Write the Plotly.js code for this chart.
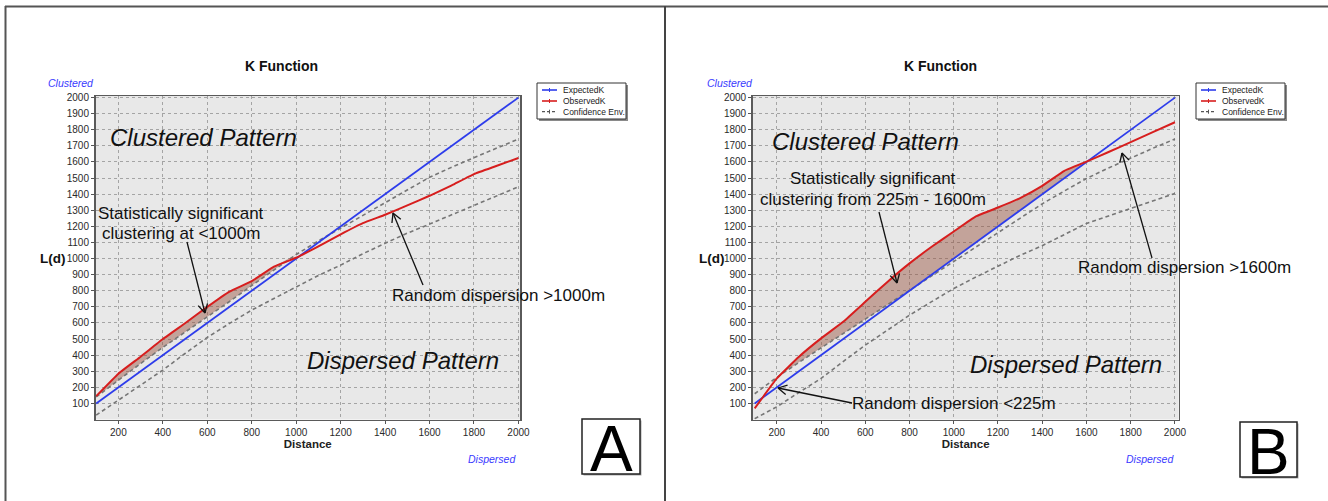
<!DOCTYPE html>
<html>
<head>
<meta charset="utf-8">
<script src="https://cdn.plot.ly/plotly-3.0.1.min.js"></script>
<style>html,body{margin:0;padding:0;background:#fff;}#chart{width:1328px;height:501px;}</style>
</head>
<body>
<div id="chart"></div>
<script>
// ---------- data ----------
const distance  = [100,200,300,400,500,600,700,800,900,1000,1100,1200,1300,1400,1500,1600,1700,1800,1900,2000];
// Panel A
const expectedA = [100,200,300,400,500,600,700,800,900,1000,1100,1200,1300,1400,1500,1600,1700,1800,1900,2000];
const observedA = [145,285,390,500,598,700,795,860,950,1005,1075,1150,1220,1272,1330,1390,1455,1525,1575,1625];
const upperA    = [140,245,348,448,542,636,733,832,930,1025,1110,1190,1270,1350,1430,1505,1568,1628,1685,1742];
const lowerA    = [27,120,215,307,410,510,597,680,752,824,895,959,1030,1095,1158,1214,1272,1332,1390,1446];
// Panel B
const expectedB = [100,200,300,400,500,600,700,800,900,1000,1100,1200,1300,1400,1500,1600,1700,1800,1900,2000];
const observedB = [69,255,390,504,607,731,855,970,1073,1168,1262,1317,1376,1452,1545,1602,1662,1723,1785,1847];
const upperB    = [160,262,355,445,532,620,710,800,890,980,1070,1160,1250,1340,1420,1497,1563,1625,1685,1743];
const lowerB    = [5,79,168,255,360,462,555,648,732,814,885,955,1020,1080,1150,1218,1265,1312,1358,1404];

const xTicks = [200,400,600,800,1000,1200,1400,1600,1800,2000];
const yTicks = [100,200,300,400,500,600,700,800,900,1000,1100,1200,1300,1400,1500,1600,1700,1800,1900,2000];
const seriesNames = ['ExpectedK','ObservedK','Confidence Env.'];
const chartTitle = 'K Function';
const panelLabels = ['A','B'];

// ---------- styles ----------
const W = 1328, H = 501;
const BLUE = 'rgb(45,60,235)', RED = 'rgb(215,30,30)', GREY = '#767676';
const FONT = 'Liberation Sans, Arial, sans-serif';
const px = v => v / W;
const py = v => 1 - v / H;

function panelTraces(obs, exp, up, lo, xa, ya) {
  const boundary = up.map((u, i) => Math.max(u, exp[i]));
  const top = obs.map((o, i) => Math.max(o, boundary[i]));
  return [
    {x: distance, y: boundary, xaxis: xa, yaxis: ya, mode: 'lines', line: {width: 0, color: 'rgba(0,0,0,0)'}, hoverinfo: 'skip', showlegend: false},
    {x: distance, y: top, xaxis: xa, yaxis: ya, mode: 'lines', fill: 'tonexty', fillcolor: 'rgba(150,80,60,0.45)', line: {width: 0, color: 'rgba(0,0,0,0)'}, hoverinfo: 'skip', showlegend: false},
    {x: distance, y: lo, xaxis: xa, yaxis: ya, mode: 'lines', name: seriesNames[2], line: {color: GREY, width: 1.6, dash: '4px,3px'}, showlegend: false},
    {x: distance, y: up, xaxis: xa, yaxis: ya, mode: 'lines', name: seriesNames[2], line: {color: GREY, width: 1.6, dash: '4px,3px'}, showlegend: false},
    {x: distance, y: exp, xaxis: xa, yaxis: ya, mode: 'lines', name: seriesNames[0], line: {color: BLUE, width: 1.8}, showlegend: false},
    {x: distance, y: obs, xaxis: xa, yaxis: ya, mode: 'lines', name: seriesNames[1], line: {color: RED, width: 2, shape: 'spline', smoothing: 0.3}, showlegend: false}
  ];
}

const data = [].concat(
  panelTraces(observedA, expectedA, upperA, lowerA, 'x', 'y'),
  panelTraces(observedB, expectedB, upperB, lowerB, 'x2', 'y2')
);

function xAxis(domain, range, anchor) {
  return {
    domain: domain, range: range, anchor: anchor,
    tickmode: 'array', tickvals: xTicks, ticks: 'outside', ticklen: 3, tickcolor: '#555',
    tickfont: {family: FONT, size: 10, color: '#2a2a2a'},
    showgrid: true, gridcolor: '#a4a4a4', griddash: 'dot', gridwidth: 1,
    showline: true, mirror: true, linecolor: '#5a5a5a', linewidth: 1.5, zeroline: false,
    title: {text: 'Distance', font: {family: FONT, size: 11.5, color: '#222', weight: 'bold'}, standoff: 0}
  };
}
function yAxis(domain, anchor) {
  return {
    domain: domain, range: [0, 2010], anchor: anchor,
    tickmode: 'array', tickvals: yTicks, ticks: 'outside', ticklen: 3, tickcolor: '#555',
    tickfont: {family: FONT, size: 10, color: '#2a2a2a'},
    showgrid: true, gridcolor: '#a4a4a4', griddash: 'dot', gridwidth: 1,
    showline: true, mirror: true, linecolor: '#5a5a5a', linewidth: 1.5, zeroline: false
  };
}
const yDom = [py(419.5), py(96)];

const shapes = [];
const annotations = [];

// outer frame
shapes.push({type: 'line', xref: 'paper', yref: 'paper', x0: px(5), x1: 1, y0: py(6.5), y1: py(6.5), line: {color: '#555', width: 2}});
shapes.push({type: 'line', xref: 'paper', yref: 'paper', x0: px(5.5), x1: px(5.5), y0: py(6), y1: 0, line: {color: '#555', width: 2}});
shapes.push({type: 'line', xref: 'paper', yref: 'paper', x0: px(665), x1: px(665), y0: py(6), y1: 0, line: {color: '#444', width: 2}});

function text(t, x, y, size, opts) {
  opts = opts || {};
  annotations.push(Object.assign({
    text: t, xref: 'paper', yref: 'paper', x: px(x), y: py(y), showarrow: false,
    xanchor: 'center', yanchor: 'middle',
    font: {family: FONT, size: size, color: '#111'}
  }, opts));
}
function seg(x0, y0, x1, y1) {
  shapes.push({type: 'line', xref: 'paper', yref: 'paper', x0: px(x0), y0: py(y0), x1: px(x1), y1: py(y1), line: {color: '#111', width: 1.3}});
}
// open "V" arrow: tail -> head (pixel positions of the annotation pointer)
function arrow(tx, ty, hx, hy) {
  seg(tx, ty, hx, hy);
  const dx = hx - tx, dy = hy - ty, L = Math.hypot(dx, dy);
  const ux = dx / L, uy = dy / L, arm = 10, ang = 0.5;
  [ang, -ang].forEach(a => {
    const c = Math.cos(a), s = Math.sin(a);
    const bx = -(ux * c - uy * s), by = -(ux * s + uy * c);
    seg(hx, hy, hx + bx * arm, hy + by * arm);
  });
}
function legend(ox) {
  shapes.push({type: 'rect', xref: 'paper', yref: 'paper', x0: px(ox + 2), x1: px(ox + 91), y0: py(121), y1: py(85), fillcolor: '#8a8a8a', line: {width: 0}});
  shapes.push({type: 'rect', xref: 'paper', yref: 'paper', x0: px(ox), x1: px(ox + 89), y0: py(119), y1: py(83), fillcolor: '#fff', line: {color: '#333', width: 1}});
  const ys = [90, 101, 111.7];
  const styles = [{color: BLUE, width: 1.6}, {color: RED, width: 1.6}, {color: '#555', width: 1.2, dash: '3px,2px'}];
  ys.forEach((yy, i) => {
    shapes.push({type: 'line', xref: 'paper', yref: 'paper', x0: px(ox + 5), x1: px(ox + 20), y0: py(yy), y1: py(yy), line: styles[i]});
    shapes.push({type: 'line', xref: 'paper', yref: 'paper', x0: px(ox + 12.5), x1: px(ox + 12.5), y0: py(yy - 2), y1: py(yy + 2), line: {color: styles[i].color, width: 1}});
    text(seriesNames[i], ox + 24, yy, 8.5, {xanchor: 'left', font: {family: FONT, size: 8.5, color: '#222'}});
  });
}
function labelBox(letter, x0, y0, x1, y1) {
  shapes.push({type: 'rect', xref: 'paper', yref: 'paper', x0: px(x0 + 1.5), x1: px(x1 + 1.5), y0: py(y1 + 1.5), y1: py(y0 + 1.5), fillcolor: '#aaa', line: {width: 0}});
  shapes.push({type: 'rect', xref: 'paper', yref: 'paper', x0: px(x0), x1: px(x1), y0: py(y1), y1: py(y0), fillcolor: '#fff', line: {color: '#222', width: 1.5}});
  text(letter, (x0 + x1) / 2, (y0 + y1) / 2 + 2, 64, {font: {family: FONT, size: 64, color: '#000'}});
}

// ----- panel A -----
text(chartTitle, 281, 66, 14, {font: {family: FONT, size: 14, color: '#111', weight: 'bold'}});
text('Clustered', 71, 83, 10.5, {font: {family: FONT, size: 10.5, color: '#3a3aff', style: 'italic'}});
text('Dispersed', 492, 459, 10.5, {font: {family: FONT, size: 10.5, color: '#3a3aff', style: 'italic'}});
text('L(d)', 52, 258, 13.5, {font: {family: FONT, size: 13.5, color: '#111', weight: 'bold'}});
text('Clustered Pattern', 203, 137, 24, {font: {family: FONT, size: 24, color: '#111', style: 'italic'}});
text('Dispersed Pattern', 403, 360, 24, {font: {family: FONT, size: 24, color: '#111', style: 'italic'}});
text('Statistically significant', 180.5, 213, 17);
text('clustering at &lt;1000m', 181, 233, 17);
text('Random dispersion &gt;1000m', 498, 295, 17);
arrow(187, 242, 205, 313);
arrow(423, 285, 393, 213);
legend(537);
labelBox(panelLabels[0], 582, 419, 640, 474);

// ----- panel B -----
text(chartTitle, 940, 66, 14, {font: {family: FONT, size: 14, color: '#111', weight: 'bold'}});
text('Clustered', 730, 83, 10.5, {font: {family: FONT, size: 10.5, color: '#3a3aff', style: 'italic'}});
text('Dispersed', 1150, 459, 10.5, {font: {family: FONT, size: 10.5, color: '#3a3aff', style: 'italic'}});
text('L(d)', 711, 258, 13.5, {font: {family: FONT, size: 13.5, color: '#111', weight: 'bold'}});
text('Clustered Pattern', 865, 142, 24, {font: {family: FONT, size: 24, color: '#111', style: 'italic'}});
text('Dispersed Pattern', 1066, 364, 24, {font: {family: FONT, size: 24, color: '#111', style: 'italic'}});
text('Statistically significant', 873, 178, 17);
text('clustering from 225m - 1600m', 873, 199, 17);
text('Random dispersion &gt;1600m', 1184, 267, 17);
text('Random dispersion &lt;225m', 953.5, 403, 17);
arrow(879, 212, 897, 283);
arrow(1152, 258, 1122, 153);
arrow(852, 403, 778, 388);
legend(1196);
labelBox(panelLabels[1], 1240, 422, 1297, 477);

const layout = {
  width: W, height: H,
  margin: {l: 0, r: 0, t: 0, b: 0, pad: 0},
  paper_bgcolor: '#fff', plot_bgcolor: '#e8e8e8',
  showlegend: false,
  font: {family: FONT, color: '#222'},
  xaxis: xAxis([px(95.5), px(520)], [97, 2007], 'y'),
  yaxis: yAxis(yDom, 'x'),
  xaxis2: xAxis([px(752.7), px(1178.7)], [91, 2017], 'y2'),
  yaxis2: yAxis(yDom, 'x2'),
  shapes: shapes,
  annotations: annotations
};

Plotly.newPlot('chart', data, layout, {staticPlot: true, displayModeBar: false});
</script>
</body>
</html>
